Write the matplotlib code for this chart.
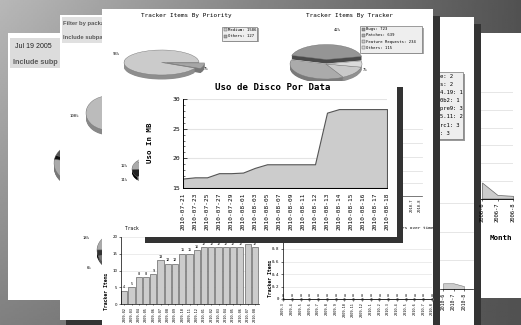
import matplotlib
matplotlib.use('Agg')
import matplotlib.pyplot as plt
from matplotlib.patches import Rectangle
from matplotlib.ticker import MultipleLocator
from matplotlib.transforms import Affine2D
import numpy as np

W, H = 521, 325
MONO = 'DejaVu Sans Mono'
NARROW = ['Liberation Sans Narrow', 'Liberation Sans', 'DejaVu Sans']

# main chart: disk usage per date
disk_dates = ['2010-07-21', '2010-07-23', '2010-07-25', '2010-07-27', '2010-07-29',
              '2010-08-01', '2010-08-03', '2010-08-05', '2010-08-07', '2010-08-09',
              '2010-08-11', '2010-08-12', '2010-08-13', '2010-08-14', '2010-08-15',
              '2010-08-16', '2010-08-17', '2010-08-18']
disk_mb = [16.6, 16.8, 16.8, 17.5, 17.5, 17.6, 18.4, 19.0, 19.0, 19.0,
           19.0, 19.0, 27.7, 28.3, 28.3, 28.3, 28.3, 28.3]

# tracker pies
priority_names = ['Medium', 'Others']
priority_counts = [1586, 127]
tracker_names = ['Bugs', 'Patches', 'Feature Requests', 'Others']
tracker_counts = [723, 639, 234, 115]

# monthly bars (bottom left)
bar_months = ['2009-02', '2009-03', '2009-04', '2009-05', '2009-06', '2009-07',
              '2009-08', '2009-09', '2009-10', '2009-11', '2009-12', '2010-01',
              '2010-02', '2010-03', '2010-04', '2010-05', '2010-06', '2010-07', '2010-08']
bar_items = [4, 5, 8, 8, 9, 13, 12, 12, 15, 15, 16, 17, 17, 17, 17, 17, 17, 18, 17]

# trackers over time (bottom right)
trend_months = ['2009-3', '2009-4', '2009-5', '2009-6', '2009-7', '2009-8', '2009-9',
                '2009-10', '2009-11', '2009-12', '2010-1', '2010-2', '2010-3',
                '2010-4', '2010-5', '2010-6', '2010-7', '2010-8']
trend_items = [0, 0, 0, 0, 0, 0, 0, 0, 0, 0, 0, 0, 0, 0, 0, 0, 0, 0]
trend_ticks = [0, 0.2, 0.4, 0.6, 0.8]

# half hidden charts in the back
old_months = ['2006-6', '2006-7', '2006-8']
old_items = [0.9, 0.2, 0.15]
recent_months = ['2010-6', '2010-7', '2010-8']
recent_items = [0.2, 0.2, 0.1]
hidden_months = ['2010-6', '2010-7', '2010-8']
legend_tail = ['e: 2', 's: 2', '4.19: 1', '0b2: 1', 'pre9: 3', '5.11: 2', 'rc1: 3', ': 3']
back_pie_a = [30, 3, 67]
back_pie_b = [100]
back_pie_c = [18, 6, 6, 70]
back_pie_d = [12, 11, 77]


def box(x0, y0, x1, y1):
    return [x0 / W, 1 - y1 / H, (x1 - x0) / W, (y1 - y0) / H]


fig = plt.figure(figsize=(W / 100, H / 100), dpi=100)

# background: every panel of the collage, drawn in pixel coordinates
bg = fig.add_axes([0, 0, 1, 1], zorder=0)
gx, gy = np.meshgrid(np.linspace(0, 1, 260), np.linspace(0, 1, 160))
shade = 0.72 - 0.40 * gx - 0.22 * gy * (1 - gx)
bg.imshow(shade, cmap='gray', vmin=0, vmax=1, extent=(0, W, H, 0), aspect='auto', zorder=0)


def panel(x0, y0, x1, y1, z, shadow=0):
    if shadow:
        bg.add_patch(Rectangle((x0 + shadow, y0 + shadow), x1 - x0, y1 - y0,
                               fc='#333333', ec='none', zorder=z - 0.1))
    bg.add_patch(Rectangle((x0, y0), x1 - x0, y1 - y0, fc='white', ec='none', zorder=z))


def label(x, y, s, z, size=2.8, **kw):
    kw.setdefault('family', MONO)
    kw.setdefault('ha', 'center')
    bg.text(x, y, s, fontsize=size, va='center', zorder=z, **kw)


def pie3d(values, tops, sides, cx, cy, rx, ry, depth, z, start=90, explode=None):
    # squashed pie with a darker rim, placed at pixel centre (cx, cy)
    steps = max(int(depth * 2), 1)
    for k in range(steps, -1, -1):
        cols = tops if k == 0 else sides
        wedges, _ = bg.pie(values, colors=cols, startangle=start, explode=explode,
                           wedgeprops=dict(linewidth=0.3 if k == 0 else 0, edgecolor='#777777'))
        tr = Affine2D().scale(rx, -ry).translate(cx, cy + depth * k / steps) + bg.transData
        for w in wedges:
            w.set_transform(tr)
            w.set_zorder(z)


# panel A
panel(8, 33, 80, 300, 1)
bg.add_patch(Rectangle((10, 38), 60, 30, fc='#dcdcdc', ec='none', zorder=1.5))
label(15, 47, 'Jul 19 2005', 2, size=5.0, family=NARROW, color='#222222', ha='left')
label(13, 62, 'Include subp', 2, size=5.2, family=NARROW, weight='bold', color='#5a5a5a', ha='left')
pie3d(back_pie_a, ['#555555', '#111111', '#aaaaaa'], ['#333333', '#000000', '#777777'],
      85, 163, 31, 22, 5, 2.5, start=52)

# panel E
panel(481, 33, 540, 298, 3)
label(501, 238, 'Month', 3.5, size=5.4, weight='bold')

# panel B
panel(60, 15, 200, 320, 4, shadow=6)
bg.add_patch(Rectangle((62, 17), 60, 26, fc='#e0e0e0', ec='none', zorder=4.5))
label(63, 23, 'Filter by package', 5, size=4.2, family=NARROW, weight='bold', color='#5a5a5a', ha='left')
label(63, 38, 'Include subpackages', 5, size=4.2, family=NARROW, weight='bold', color='#5a5a5a', ha='left')
label(74, 116, '100%', 5)
label(86, 238, '18%', 5)
label(89, 268, '6%', 5)
pie3d(back_pie_b, ['#bbbbbb'], ['#888888'], 108, 113, 22, 17, 5, 5.5)
pie3d(back_pie_c, ['#aaaaaa', '#333333', '#777777', '#cccccc'],
      ['#777777', '#111111', '#555555', '#999999'], 118, 250, 21, 17, 4, 5.5, start=115)

# panel D
panel(439, 17, 474, 340, 6, shadow=7)
bg.add_patch(Rectangle((436, 74), 29, 67, fc='#999999', ec='none', zorder=6.3))
bg.add_patch(Rectangle((434, 72), 29, 67, fc='#eeeeee', ec='#777777', lw=0.5, zorder=6.5))
for i, s in enumerate(legend_tail):
    label(439.5, 76 + 8.2 * i, s, 7, size=4.0, ha='left')
for y in [203, 232, 260]:
    bg.plot([439, 473], [y, y], color='#e2e2e2', lw=0.6, zorder=6.6)

# panel C (the tracker report)
panel(102, 9, 433, 340, 8, shadow=7)
label(186, 15, 'Tracker Items By Priority', 9, size=4.3)
label(350, 15, 'Tracker Items By Tracker', 9, size=4.3)
label(125, 228, 'Tracker Items', 9, size=3.3, ha='left')
label(402, 228, 'rs over time', 9, size=3.2, ha='left')
label(107, 291, 'Tracker Items', 9, size=3.4, weight='bold', rotation=90)
label(270, 278, 'Tracker Items', 9, size=3.4, weight='bold', rotation=90)
label(124, 166, '12%', 9)
label(124, 180, '11%', 9)
# grid of a chart hidden behind the main panel
for y in [129, 143, 157, 171, 183]:
    bg.plot([398, 422], [y, y], color='#e2e2e2', lw=0.6, zorder=8.5)
bg.plot([398, 422], [196, 196], color='#444444', lw=0.5, zorder=8.6)
for i, m in enumerate(hidden_months):
    bg.text(403 + 8.3 * i, 199, m, fontsize=2.7, family=MONO, rotation=90,
            ha='center', va='top', zorder=9)


def legend_box(x0, y0, w, names, counts, colors):
    h = len(names) * 6.2 + 1.8
    bg.add_patch(Rectangle((x0 + 1.5, y0 + 1.5), w, h, fc='#aaaaaa', ec='none', zorder=8.8))
    bg.add_patch(Rectangle((x0, y0), w, h, fc='#eeeeee', ec='#777777', lw=0.5, zorder=9))
    for i, (n, c, col) in enumerate(zip(names, counts, colors)):
        y = y0 + 3.2 + 6.2 * i
        bg.add_patch(Rectangle((x0 + 2, y - 1.5), 3, 3, fc=col, ec='#555555', lw=0.3, zorder=9.2))
        label(x0 + 6.5, y, f'{n}: {c}', 9.2, ha='left')


prio_tops = ['#cbcbcb', '#a6a6a6']
prio_sides = ['#8e8e8e', '#777777']
track_tops = ['#959595', '#ababab', '#c9c9c9', '#dadada']
track_sides = ['#4a4a4a', '#7a7a7a', '#909090', '#a0a0a0']
legend_box(222, 26.7, 35, priority_names, priority_counts, prio_tops)
legend_box(360, 26, 62, tracker_names, tracker_counts, track_tops)


def pct(values):
    return [f'{round(v / sum(values) * 100)}%' for v in values]


prio_pct = pct(priority_counts)
track_pct = pct(tracker_counts)
label(116, 54, prio_pct[0], 9)
label(206, 69, prio_pct[1], 9)
label(337, 30, track_pct[0], 9)
label(365, 70, track_pct[3], 9)

pie3d(priority_counts, prio_tops, prio_sides, 161.5, 62.5, 37.5, 12.5, 4.5, 9.5,
      start=0, explode=[0, 0.15])
pie3d(tracker_counts, track_tops, track_sides, 326, 64, 36, 15, 4, 9.5,
      start=12, explode=[0.3, 0, 0, 0])
pie3d(back_pie_d, ['#aaaaaa', '#222222', '#cccccc'], ['#777777', '#000000', '#999999'],
      152, 169, 20, 12, 3, 9.5, start=140)

bg.set_aspect('auto')
bg.set_xlim(0, W)
bg.set_ylim(H, 0)
bg.axis('off')

# monthly bars
ba = fig.add_axes(box(120.7, 237, 258.5, 304), zorder=1)
bx = np.arange(len(bar_items))
ba.bar(bx, bar_items, width=0.86, color='#cccccc', edgecolor='#666666', linewidth=0.5)
for x, v in zip(bx, bar_items):
    ba.text(x, v + 0.4, str(v), fontsize=2.6, family=MONO, ha='center', va='bottom')
ba.set_xlim(-0.5, len(bar_items) - 0.5)
ba.set_ylim(0, 20)
ba.set_yticks([0, 5, 10, 15, 20])
ba.set_xticks(bx)
ba.set_xticklabels(bar_months, rotation=90, fontsize=2.6, family=MONO)
ba.tick_params(axis='y', labelsize=2.8, length=1.5, width=0.4, pad=0.8)
ba.tick_params(axis='x', length=1, width=0.4, pad=1.5)
ba.grid(axis='y', color='#e4e4e4', lw=0.5)
ba.set_axisbelow(True)
for s in ['top', 'right']:
    ba.spines[s].set_visible(False)
for s in ['left', 'bottom']:
    ba.spines[s].set_linewidth(0.5)

# trackers over time
ta = fig.add_axes(box(283, 236.5, 432, 299), zorder=1)
tx = np.arange(len(trend_items))
ta.plot(tx, trend_items, color='#777777', lw=0.5, marker='d', ms=1.2, clip_on=False)
for x, v in zip(tx, trend_items):
    ta.text(x, v + 0.02, str(v), fontsize=2.6, family=MONO, ha='center', va='bottom')
ta.set_xlim(0, len(trend_items) - 1)
ta.set_ylim(0, 1)
ta.set_yticks(trend_ticks)
ta.set_yticklabels([f'{v:g}' for v in trend_ticks], fontsize=3, family=MONO)
ta.set_xticks(tx)
ta.set_xticklabels(trend_months, rotation=90, fontsize=2.6, family=MONO)
ta.tick_params(length=1.2, width=0.4, pad=1.2)
ta.grid(axis='y', color='#e4e4e4', lw=0.5)
for s in ['top', 'right']:
    ta.spines[s].set_visible(False)
for s in ['left', 'bottom']:
    ta.spines[s].set_linewidth(0.5)

# small area chart in panel D
da = fig.add_axes(box(440, 200, 473, 289), zorder=1)
dx = np.arange(len(recent_items))
da.fill_between(dx, recent_items, 0, facecolor='#cccccc', edgecolor='#777777', lw=0.4)
da.set_xlim(-0.29, 2.86)
da.set_ylim(0, 3.1)
da.set_xticks(dx)
da.set_xticklabels(recent_months, rotation=90, fontsize=3.4, family=MONO)
da.set_yticks([])
da.tick_params(length=1.2, width=0.4, pad=1.5)
da.patch.set_visible(False)
for s in ['top', 'right', 'left']:
    da.spines[s].set_visible(False)
da.spines['bottom'].set_linewidth(0.5)

# area chart in panel E
ea = fig.add_axes(box(481, 80, 513, 198.5), zorder=1)
ex = np.arange(len(old_items))
ea.fill_between(ex, old_items, 0, facecolor='#cccccc', edgecolor='#666666', lw=0.5)
ea.set_xlim(-0.065, 2)
ea.set_ylim(0, 6.68)
ea.set_yticks([1, 2, 3, 4, 5, 6])
ea.set_yticklabels([])
ea.set_xticks(ex)
ea.set_xticklabels(old_months, rotation=90, fontsize=4.0, family=MONO)
ea.tick_params(axis='x', length=1.5, width=0.4, pad=1.5)
ea.tick_params(axis='y', length=0)
ea.grid(axis='y', color='#e2e2e2', lw=0.6)
ea.set_axisbelow(True)
ea.patch.set_visible(False)
for s in ['top', 'right', 'left']:
    ea.spines[s].set_visible(False)
ea.spines['bottom'].set_linewidth(0.6)

# main panel on top
ov = fig.add_axes([0, 0, 1, 1], zorder=2)
ov.set_xlim(0, W)
ov.set_ylim(H, 0)
ov.axis('off')
ov.add_patch(Rectangle((145, 87), 258, 156, fc='#333333', ec='none'))
ov.add_patch(Rectangle((139, 81), 258, 156, fc='white', ec='none'))
ov.text(273, 87, 'Uso de Disco Por Data', fontsize=6.6, family=MONO, weight='bold',
        ha='center', va='center')
ov.text(150.5, 143, 'Uso In MB', fontsize=5.3, family=MONO, weight='bold', rotation=90,
        ha='center', va='center')

ax = fig.add_axes(box(183, 99, 387, 188), zorder=3)
xs = np.arange(len(disk_dates))
ax.fill_between(xs, disk_mb, 15, facecolor='#cccccc', edgecolor='#555555', linewidth=0.8)
ax.set_xlim(0, len(disk_dates) - 1)
ax.set_ylim(15, 30)
ax.set_yticks([15, 20, 25, 30])
ax.yaxis.set_minor_locator(MultipleLocator(1))
ax.set_xticks(xs)
ax.set_xticklabels(disk_dates, rotation=90, fontsize=4.4, family=MONO)
ax.tick_params(axis='y', labelsize=4.6, direction='in', length=3, width=0.5, pad=2.2)
ax.tick_params(axis='y', which='minor', direction='in', length=1.5, width=0.4)
ax.tick_params(axis='x', direction='in', length=3, width=0.5, pad=3.4)
for lab in ax.get_yticklabels():
    lab.set_family(MONO)
ax.grid(axis='y', which='major', color='#e4e4e4', lw=0.8)
ax.set_axisbelow(True)
for s in ['top', 'right']:
    ax.spines[s].set_visible(False)
for s in ['left', 'bottom']:
    ax.spines[s].set_linewidth(0.7)

fig.savefig('out.png', dpi=100)
